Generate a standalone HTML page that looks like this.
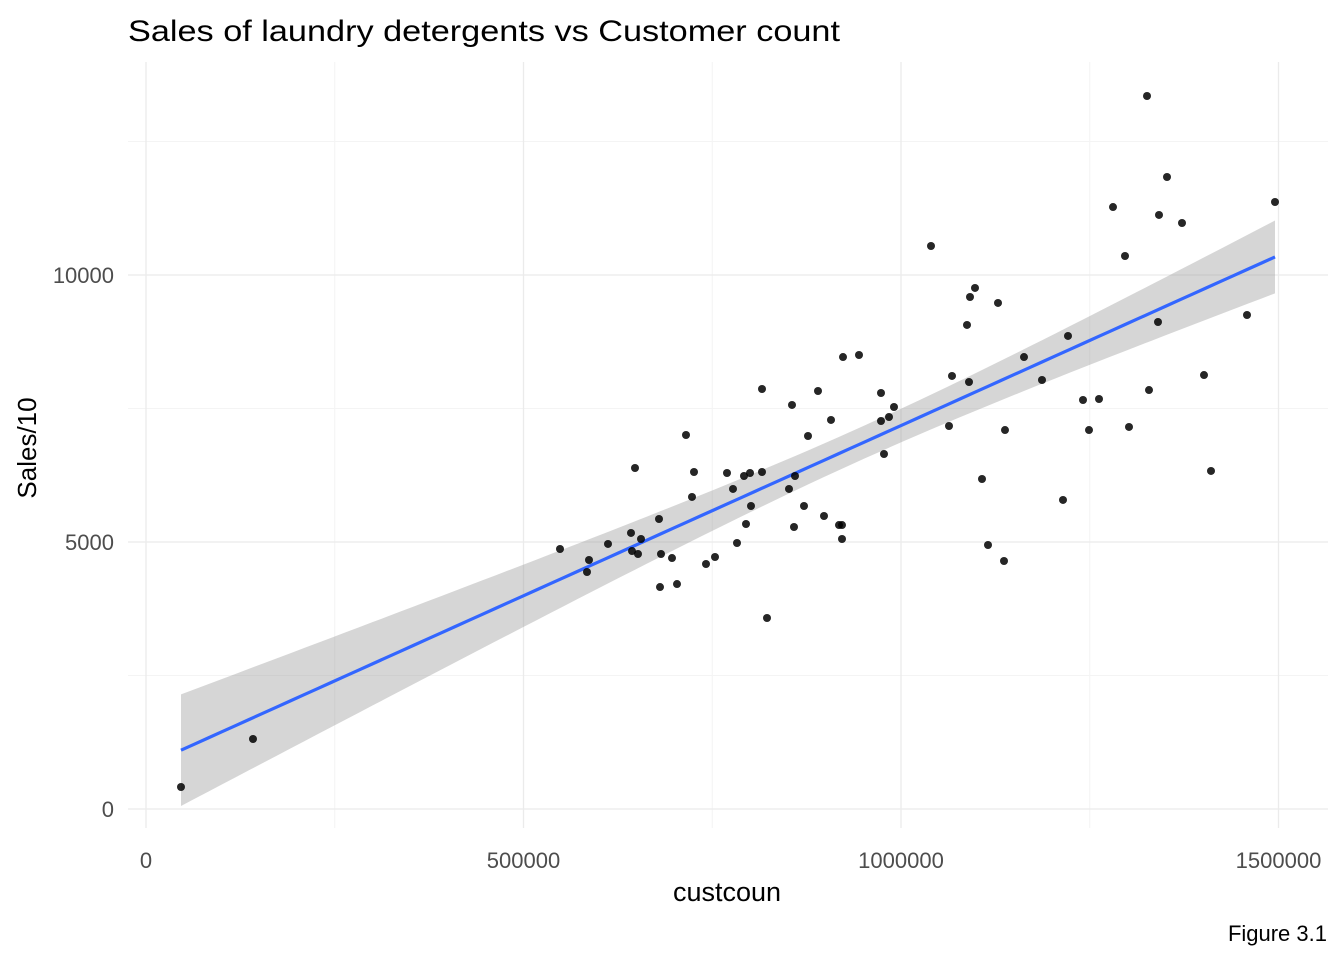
<!DOCTYPE html>
<html><head><meta charset="utf-8"><style>
body{margin:0;background:#fff;}
svg text{font-family:"Liberation Sans",Arial,sans-serif;}
</style></head><body>
<svg id="chart" width="1344" height="960" xmlns="http://www.w3.org/2000/svg">
<text x="128" y="41" font-size="30" textLength="712" lengthAdjust="spacingAndGlyphs" fill="#000">Sales of laundry detergents vs Customer count</text>
<g id="grid"></g>
<g id="band"></g>
<g id="points"></g>
<text x="727" y="901" font-size="27" text-anchor="middle" fill="#000">custcoun</text>
<text transform="translate(36,448) rotate(-90)" font-size="26" text-anchor="middle" fill="#000">Sales/10</text>
<text x="1327" y="941" font-size="22" text-anchor="end" fill="#000">Figure 3.1</text>
</svg>
<script>
const xTicks=[0,500000,1000000,1500000];
const xMinor=[250000,750000,1250000];
const yTicks=[0,5000,10000];
const yMinor=[2500,7500,12500];
const custcoun=[46358,141722,548344,584106,586755,611921,642384,647682,643709,651656,655629,679470,680795,682119,696689,703311,715232,723179,725828,741722,753642,769536,777483,782781,792053,794702,800000,801325,815894,815894,822517,851656,855629,858278,859603,871523,876821,890066,898013,907285,917881,921854,921854,923179,944371,973510,973510,977483,984106,990728,1039735,1063576,1067550,1087417,1090066,1091391,1098013,1107285,1115232,1128477,1136424,1137748,1162914,1186755,1214570,1221192,1241060,1249007,1262252,1280795,1296689,1301987,1325828,1328477,1340397,1341722,1352318,1372185,1401325,1410596,1458278,1495364];
const sales=[412,1311,4869,4438,4663,4963,5169,6386,4831,4775,5056,5431,4157,4775,4700,4213,7004,5843,6311,4588,4719,6292,5993,4981,6236,5337,6292,5674,7865,6311,3577,5993,7566,5281,6236,5674,6985,7828,5487,7285,5318,5318,5056,8464,8502,7790,7266,6648,7341,7528,10543,7172,8109,9064,7996,9588,9757,6180,4944,9476,4644,7097,8464,8034,5787,8858,7659,7097,7678,11273,10356,7154,13352,7846,9120,11124,11835,10974,8127,6330,9251,11367];
const X0=146,XS=377.5/500000,Y0=809,YS=267/5000;
const xs=v=>X0+v*XS, ys=v=>Y0-v*YS;
const NS="http://www.w3.org/2000/svg";
function mk(tag,attrs,parent){const e=document.createElementNS(NS,tag);for(const k in attrs)e.setAttribute(k,attrs[k]);parent.appendChild(e);return e;}
const grid=document.getElementById('grid');
xMinor.forEach(v=>{const l=mk('line',{x1:xs(v),x2:xs(v),y1:62,y2:828,stroke:'#f4f4f4','stroke-width':1},grid);

});
yMinor.forEach(v=>{const l=mk('line',{x1:128,x2:1328,y1:ys(v),y2:ys(v),stroke:'#f4f4f4','stroke-width':1},grid);

});
xTicks.forEach(v=>{const l=mk('line',{x1:xs(v),x2:xs(v),y1:62,y2:828,stroke:'#ebebeb','stroke-width':1.3},grid);


const t=mk('text',{x:xs(v),y:868,'font-size':22,'text-anchor':'middle',fill:'#4d4d4d'},grid);t.textContent=v;

});
yTicks.forEach(v=>{const l=mk('line',{x1:128,x2:1328,y1:ys(v),y2:ys(v),stroke:'#ebebeb','stroke-width':1.3},grid);


const t=mk('text',{x:114,y:ys(v)+8,'font-size':22,'text-anchor':'end',fill:'#4d4d4d'},grid);t.textContent=v;

});
const n=custcoun.length;
const mx=custcoun.reduce((a,b)=>a+b)/n, my=sales.reduce((a,b)=>a+b)/n;
let sxx=0,sxy=0;for(let i=0;i<n;i++){sxx+=(custcoun[i]-mx)**2;sxy+=(custcoun[i]-mx)*(sales[i]-my);}
const b=sxy/sxx,a=my-b*mx;
let sse=0;for(let i=0;i<n;i++)sse+=(sales[i]-a-b*custcoun[i])**2;
const s=Math.sqrt(sse/(n-2)),tq=1.99;
const xmin=Math.min(...custcoun),xmax=Math.max(...custcoun);
const up=[],lo=[],ln=[];
for(let k=0;k<=80;k++){const x=xmin+(xmax-xmin)*k/80;const f=a+b*x;const se=s*Math.sqrt(1/n+(x-mx)**2/sxx);
up.push(xs(x)+','+ys(f+tq*se));lo.unshift(xs(x)+','+ys(f-tq*se));ln.push(xs(x)+','+ys(f));}
const bandG=document.getElementById('band');
const poly=mk('polygon',{points:up.concat(lo).join(' '),fill:'#999999','fill-opacity':0.4},bandG);


const pl=mk('polyline',{points:ln.join(' '),fill:'none',stroke:'#3366ff','stroke-width':3.2},bandG);


const pg=document.getElementById('points');
for(let i=0;i<n;i++){const c=mk('circle',{cx:xs(custcoun[i]),cy:ys(sales[i]),r:4,fill:'#000','fill-opacity':0.85},pg);

}
</script>
</body></html>
